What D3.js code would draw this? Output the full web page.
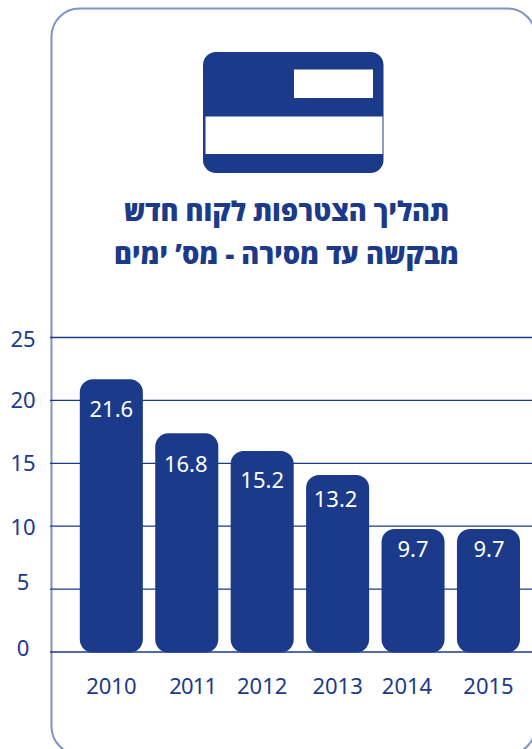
<!DOCTYPE html>
<html lang="he"><head><meta charset="utf-8">
<script src="https://cdn.jsdelivr.net/npm/d3@7"></script>
<style>html,body{margin:0;padding:0;background:#fff;overflow:hidden}svg{display:block}</style>
</head><body><script>
const years = ["2010","2011","2012","2013","2014","2015"];
const barValues = [21.6,17.3,15.9,14.0,9.7,9.7];
const valueLabels = ["21.6","16.8","15.2","13.2","9.7","9.7"];
const yTicks = [0,5,10,15,20,25];
const titleLines = ["תהליך הצטרפות לקוח חדש","מבקשה עד מסירה - מס’ ימים"];

const W=532,H=749,navy="#1b3a8a",font="'Noto Sans','Open Sans',sans-serif";
const yearNudge={2011:6,2014:-6}, tickNudge={0:-3.5,5:-7,10:1,25:2};
const labelDrop=[37.5,38.5,37,32,28,28], labelNudgeX=[0,-1,0,-2,0,0.5];

const svg=d3.select("body").append("svg").attr("width",W).attr("height",H);
svg.append("rect").attr("x",51.5).attr("y",8.5).attr("width",484).attr("height",746).attr("rx",28)
  .attr("fill","#fff").attr("stroke","#7f93c4").attr("stroke-width",2);

const x=d3.scaleBand().domain(years).range([79.8,520]).paddingInner(0.164).paddingOuter(0);
const y=d3.scaleLinear().domain([0,25]).range([651.5,337]);

// card icon
const icon=svg.append("g");
icon.append("rect").attr("x",203).attr("y",52).attr("width",180.5).attr("height",121).attr("rx",13).attr("fill",navy);
icon.append("rect").attr("x",294).attr("y",69.5).attr("width",79).attr("height",28.5).attr("fill","#fff");
icon.append("rect").attr("x",205.5).attr("y",116.5).attr("width",177).attr("height",37.5).attr("fill","#fff");

// title
svg.selectAll("text.title").data(titleLines).join("text").attr("class","title")
  .attr("x",286.5).attr("y",(d,i)=>i?264:221)
  .attr("text-anchor","middle").attr("direction","rtl")
  .attr("font-family","'Open Sans',sans-serif").attr("font-weight",800).attr("font-size",27.3).attr("fill",navy).text(d=>d);

// y axis + grid
const gy=svg.append("g").attr("transform","translate(50,0)")
  .call(d3.axisLeft(y).tickValues(yTicks).tickSize(-482).tickPadding(0));
gy.select(".domain").remove();
gy.selectAll(".tick line").attr("stroke",navy).attr("stroke-width",1.3);
gy.selectAll(".tick text").attr("x",-27)
  .attr("dy",d=>7.8+(tickNudge[d]||0)).attr("text-anchor","middle")
  .attr("font-family",font).attr("font-size",22).attr("fill",navy);

// x axis
const gx=svg.append("g").attr("transform","translate(0,694)")
  .call(d3.axisBottom(x).tickSize(0).tickPadding(0));
gx.select(".domain").remove();
gx.selectAll(".tick text").attr("dx",d=>yearNudge[d]||0).attr("y",0).attr("dy",0)
  .attr("font-family",font).attr("font-size",22).attr("fill",navy)
  .attr("letter-spacing",d=>d==="2011"?-0.8:0);

// bars
svg.selectAll("rect.bar").data(years).join("rect").attr("class","bar")
  .attr("x",d=>x(d)).attr("width",x.bandwidth())
  .attr("y",(d,i)=>y(barValues[i])-0.5).attr("height",(d,i)=>y(0)+1.5-y(barValues[i]))
  .attr("rx",13).attr("fill",navy);

// value labels
svg.selectAll("text.val").data(years).join("text").attr("class","val")
  .attr("x",(d,i)=>x(d)+x.bandwidth()/2+labelNudgeX[i])
  .attr("y",(d,i)=>y(barValues[i])+labelDrop[i])
  .attr("text-anchor","middle").attr("font-family",font).attr("font-size",22).attr("fill","#fff")
  .text((d,i)=>valueLabels[i]);
</script></body></html>
